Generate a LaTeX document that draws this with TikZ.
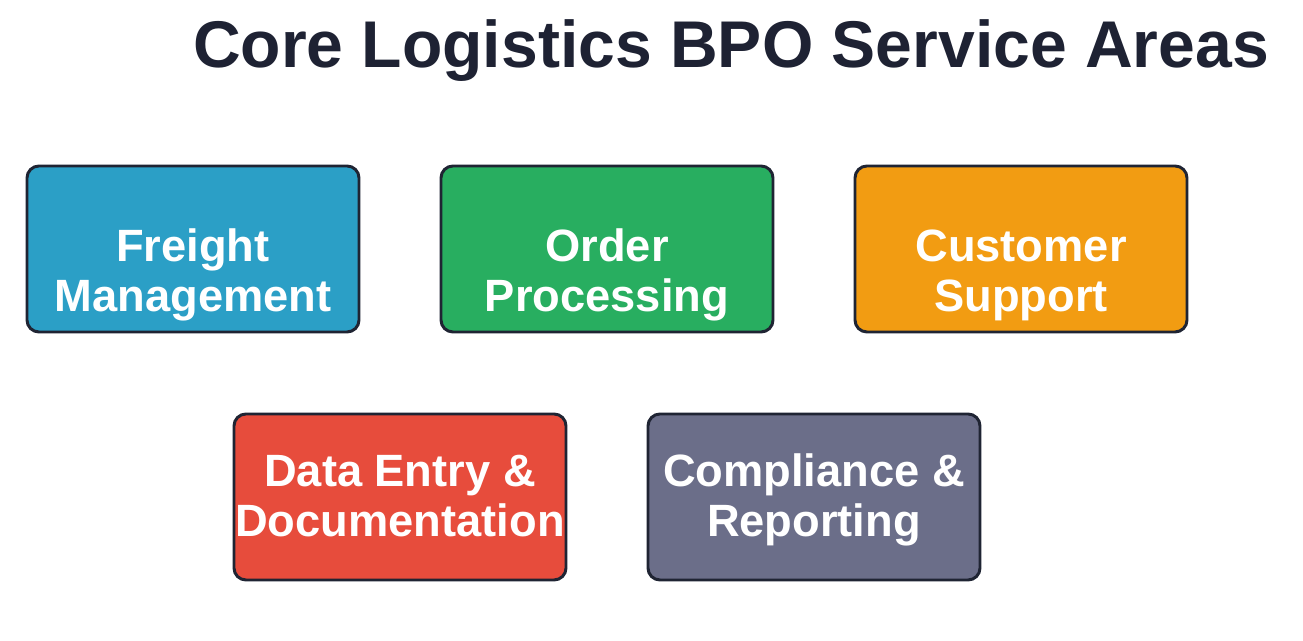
\documentclass[tikz,border=0pt]{standalone}
\usepackage{fontspec}
\setmainfont{Liberation Sans}
\usepackage{tikz}
\usetikzlibrary{positioning}
\definecolor{Ink}{HTML}{1E2233}
\definecolor{Edge}{HTML}{1F2433}
\definecolor{Freight}{HTML}{2B9FC6}
\definecolor{Order}{HTML}{28AE60}
\definecolor{Support}{HTML}{F29C12}
\definecolor{DataRed}{HTML}{E74C3C}
\definecolor{Slate}{HTML}{6B6E89}

\tikzset{
  area/.style={draw=Edge,line width=2.1pt,rounded corners=8.5pt,
    minimum width=8.3cm,minimum height=4.15cm,align=center,
    text=white,font=\fontsize{32.2}{35.6}\selectfont\bfseries,inner sep=0pt},
  toprow/.style={area,text height=96pt,text depth=6.4pt},
  bottomrow/.style={area,text height=64pt,text depth=7.1pt},
}

\begin{document}
\begin{tikzpicture}[x=1cm,y=1cm]
\path[use as bounding box] (0,0) rectangle (32.575,16.025);
\fill[white] (0,0) rectangle (32.575,16.025);
\node[font=\fontsize{47}{56}\selectfont\bfseries,text=Ink,anchor=base] (title) at (18.275,14.325) {Core Logistics BPO Service Areas};

% first row
\node[toprow,fill=Freight] (freight) at (4.825,9.8) {Freight\\Management};
\node[toprow,fill=Order] (order) at (15.175,9.8) {Order\\Processing};
\node[toprow,fill=Support] (support) at (25.525,9.8) {Customer\\Support};

% second row
\node[bottomrow,fill=DataRed] (dataentry) at (10.0,3.6) {Data Entry \&\\Documentation};
\node[bottomrow,fill=Slate] (compliance) at (20.35,3.6) {Compliance \&\\Reporting};
\end{tikzpicture}
\end{document}
